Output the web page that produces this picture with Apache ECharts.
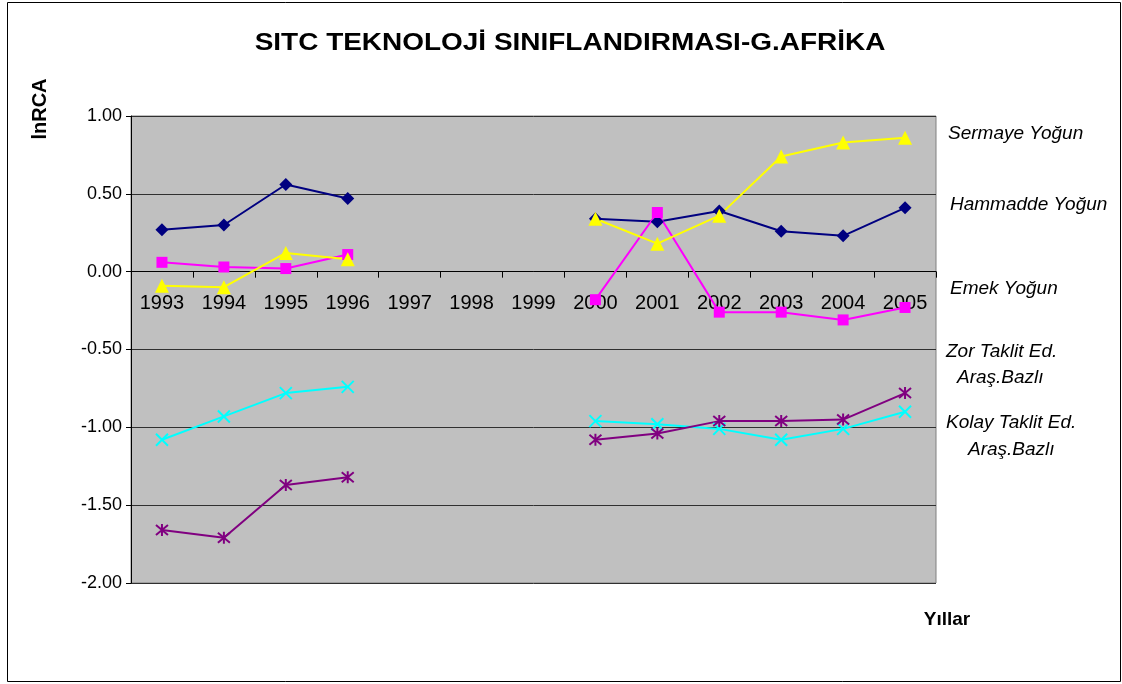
<!DOCTYPE html>
<html>
<head>
<meta charset="utf-8">
<script src="https://cdn.jsdelivr.net/npm/echarts@6/dist/echarts.min.js"></script>
<style>html,body{margin:0;padding:0;background:#fff}#c{width:1122px;height:684px}</style>
</head>
<body>
<div id="c"></div>
<script>
const years = ['1993','1994','1995','1996','1997','1998','1999','2000','2001','2002','2003','2004','2005'];
const hammadde = [0.27, 0.30, 0.56, 0.47, null, null, null, 0.34, 0.32, 0.39, 0.26, 0.23, 0.41];
const emek     = [0.06, 0.03, 0.02, 0.11, null, null, null, -0.18, 0.38, -0.26, -0.26, -0.31, -0.23];
const sermaye  = [-0.09, -0.10, 0.12, 0.08, null, null, null, 0.34, 0.18, 0.36, 0.74, 0.83, 0.86];
const kolay    = [-1.08, -0.93, -0.78, -0.74, null, null, null, -0.96, -0.98, -1.01, -1.08, -1.01, -0.90];
const zor      = [-1.66, -1.71, -1.37, -1.32, null, null, null, -1.08, -1.04, -0.96, -0.96, -0.95, -0.78];
const titleText = 'SITC TEKNOLOJİ SINIFLANDIRMASI-G.AFRİKA';
const yTitle = 'lnRCA';
const xTitle = 'Yıllar';
const labels = [
  {t:'Sermaye Yoğun', x:948, y:134},
  {t:'Hammadde Yoğun', x:950, y:205},
  {t:'Emek Yoğun', x:950, y:289},
  {t:'Zor Taklit Ed.', x:946, y:352},
  {t:'Araş.Bazlı', x:957, y:378},
  {t:'Kolay Taklit Ed.', x:946, y:423},
  {t:'Araş.Bazlı', x:968, y:450}
];

const FONT = '"Liberation Sans", Arial, sans-serif';
const xPath = 'path://M0,0 L10,10 M10,0 L0,10';
const starPath = 'path://M0,0 L10,10 M10,0 L0,10 M5,-1 L5,11';

const W = 1122, H = 684;
const G = {left: 131, right: 186, top: 116, bottom: 101};
const yMin = -2, yMax = 1;
const gridH = H - G.top - G.bottom;
const zeroOffset = -gridH * (0 - yMin) / (yMax - yMin);

function mk(name, data, color, symbol, size, stroke) {
  return {
    name, type: 'line', data, connectNulls: false,
    symbol, symbolSize: size,
    lineStyle: {color, width: 2},
    itemStyle: stroke ? {color, borderColor: color, borderWidth: 2} : {color},
    emphasis: {disabled: true},
    z: 10
  };
}

const chart = echarts.init(document.getElementById('c'));
chart.setOption({
  animation: false,
  backgroundColor: '#fff',
  grid: Object.assign({show: true, backgroundColor: '#C0C0C0', borderColor: '#808080', borderWidth: 1}, G),
  xAxis: {
    type: 'category', data: years, boundaryGap: true, z: 1,
    position: 'bottom', offset: zeroOffset,
    axisLine: {onZero: false, lineStyle: {color: '#000', width: 1}},
    axisTick: {show: true, alignWithLabel: false, length: 6, lineStyle: {color: '#000'}},
    axisLabel: {color: '#000', fontSize: 20, fontFamily: FONT, margin: 22, interval: 0},
    splitLine: {show: false}
  },
  yAxis: {
    type: 'value', min: yMin, max: yMax, interval: 0.5, z: 1,
    axisLine: {show: true, lineStyle: {color: '#000'}},
    axisTick: {show: true, length: 5, lineStyle: {color: '#000'}},
    axisLabel: {color: '#000', fontSize: 18, fontFamily: FONT, margin: 9, formatter: v => v.toFixed(2)},
    splitLine: {show: true, lineStyle: {color: '#303030', width: 1}}
  },
  series: [
    mk('Hammadde Yoğun', hammadde, '#000080', 'diamond', 13, false),
    mk('Emek Yoğun', emek, '#FF00FF', 'rect', 11, false),
    mk('Sermaye Yoğun', sermaye, '#FFFF00', 'triangle', 14, false),
    mk('Kolay Taklit Ed. Araş.Bazlı', kolay, '#00FFFF', xPath, 12, true),
    mk('Zor Taklit Ed. Araş.Bazlı', zor, '#800080', starPath, 12, true)
  ],
  graphic: [
    {type: 'rect', shape: {x: 7.5, y: 2.5, width: 1113, height: 679}, style: {fill: 'none', stroke: '#000', lineWidth: 1}, z: -1},
    {type: 'text', x: 570, y: 43, scaleX: 1.165, style: {text: titleText, font: 'bold 24px ' + FONT, fill: '#000', textAlign: 'center', textVerticalAlign: 'middle'}},
    {type: 'text', x: 40, y: 109, rotation: Math.PI / 2, style: {text: yTitle, font: 'bold 20px ' + FONT, fill: '#000', textAlign: 'center', textVerticalAlign: 'middle'}},
    {type: 'text', x: 947, y: 620, style: {text: xTitle, font: 'bold 19px ' + FONT, fill: '#000', textAlign: 'center', textVerticalAlign: 'middle'}}
  ].concat(labels.map(l => ({type: 'text', x: l.x, y: l.y, style: {text: l.t, font: 'italic 19px ' + FONT, fill: '#000', textAlign: 'left', textVerticalAlign: 'middle'}})))
});
</script>
</body>
</html>
